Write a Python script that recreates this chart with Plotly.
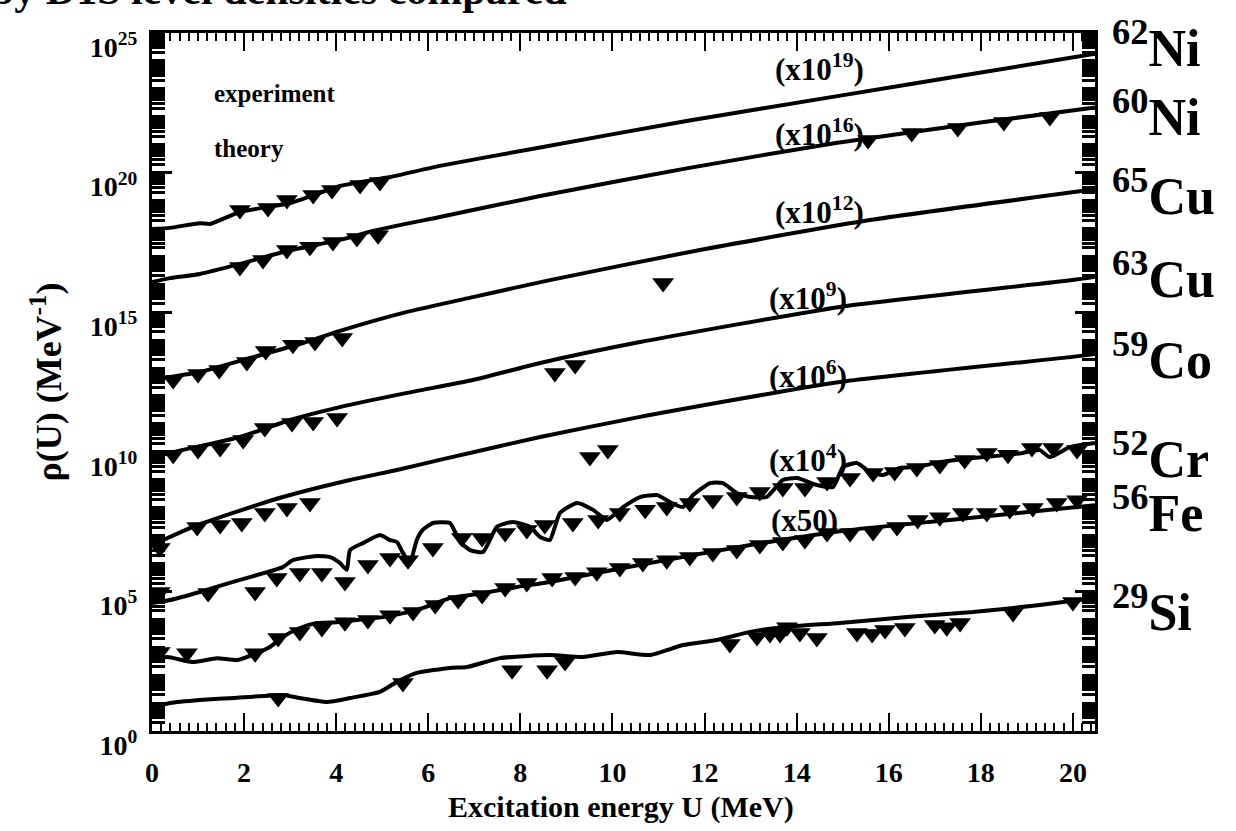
import numpy as np
import plotly.graph_objects as go

# ---------------- data (U in MeV, log10 of unscaled level density in MeV^-1) ----------------
# scale factors used in the figure
SCALE_NI62 = 1e19
SCALE_NI60 = 1e16
SCALE_CU65 = 1e12
SCALE_CU63 = 1e9
SCALE_CO59 = 1e6
SCALE_CR52 = 1e4
SCALE_FE56 = 50.0
SCALE_SI29 = 1.0

ni62_theory_u = [0, 0.39, 1.04, 1.26, 1.91, 3.00, 4.08, 5.17, 6.25, 8.43, 11.64, 14.85, 18.07, 20.48]
ni62_theory_logrho = [-1.02, -0.98, -0.81, -0.84, -0.41, -0.09, 0.52, 0.84, 1.24, 1.90, 2.86, 3.73, 4.60, 5.26]
ni62_exp_u = [1.91, 2.52, 2.93, 3.50, 3.91, 4.52, 4.95]
ni62_exp_logrho = [-0.34, -0.27, 0.02, 0.20, 0.38, 0.56, 0.66]

ni60_theory_u = [0, 0.39, 1.04, 1.91, 2.93, 4.08, 4.80, 6.25, 8.43, 11.64, 14.85, 18.07, 20.48]
ni60_theory_logrho = [0.08, 0.22, 0.37, 0.73, 1.19, 1.59, 1.91, 2.41, 3.16, 4.16, 5.06, 5.81, 6.33]
ni60_exp_u = [1.91, 2.41, 2.93, 3.43, 3.93, 4.45, 4.91, 15.55, 16.50, 17.50, 18.50, 19.50]
ni60_exp_logrho = [0.62, 0.87, 1.23, 1.34, 1.51, 1.66, 1.76, 5.17, 5.42, 5.60, 5.81, 5.99]

cu65_theory_u = [0, 0.39, 1.04, 2.13, 3.21, 4.08, 5.54, 6.97, 8.64, 11.90, 15.59, 20.48]
cu65_theory_logrho = [0.57, 0.68, 0.86, 1.36, 1.86, 2.33, 3.01, 3.54, 4.15, 5.23, 6.30, 7.40]
cu65_exp_u = [0.46, 1.00, 1.46, 2.06, 2.47, 3.06, 3.54, 4.13, 11.10]
cu65_exp_logrho = [0.57, 0.79, 0.93, 1.22, 1.61, 1.83, 1.93, 2.08, 4.05]

cu63_theory_u = [0, 0.39, 1.91, 3.00, 4.08, 5.54, 6.97, 8.43, 10.60, 14.94, 19.99, 20.48]
cu63_theory_logrho = [0.78, 0.96, 1.53, 2.14, 2.60, 3.11, 3.57, 4.18, 4.93, 6.19, 7.15, 7.27]
cu63_exp_u = [0.46, 1.00, 1.48, 1.98, 2.45, 3.04, 3.50, 4.02, 8.75, 9.19]
cu63_exp_logrho = [0.89, 1.06, 1.14, 1.42, 1.85, 2.03, 2.07, 2.21, 3.82, 4.11]

co59_theory_u = [0, 0.89, 1.76, 2.84, 4.30, 5.32, 6.25, 8.43, 10.60, 14.94, 19.99, 20.48]
co59_theory_logrho = [0.66, 1.31, 1.81, 2.38, 2.99, 3.35, 3.71, 4.53, 5.25, 6.50, 7.40, 7.50]
co59_exp_u = [0.17, 0.98, 1.48, 1.95, 2.45, 2.93, 3.43, 9.51, 9.90]
co59_exp_logrho = [0.55, 1.31, 1.38, 1.45, 1.81, 1.99, 2.17, 3.81, 4.06]

cr52_theory_u = [0, 0.39, 1.04, 1.76, 2.50, 2.84, 3.06, 3.58, 3.87, 4.08, 4.23, 4.30, 4.58, 4.95,
                 5.17, 5.32, 5.45, 5.60, 5.75, 5.88, 6.10, 6.47, 6.69, 6.91, 7.19, 7.49, 7.84, 8.21,
                 8.43, 8.64, 8.86, 9.23, 9.58, 9.88, 10.23, 10.60, 10.97, 11.25, 11.53, 11.75, 12.12,
                 12.40, 12.70, 12.99, 13.35, 13.70, 14.01, 14.44, 14.79, 15.01, 15.31, 15.59, 15.87,
                 16.24, 16.61, 17.11, 17.83, 18.57, 18.91, 19.28, 19.50, 19.93, 20.48]
cr52_theory_logrho = [0.58, 0.69, 0.98, 1.34, 1.69, 1.87, 2.12, 2.27, 2.23, 2.02, 1.77, 2.48, 2.73, 3.02,
                      2.84, 2.77, 2.38, 2.02, 2.84, 3.20, 3.45, 3.45, 2.77, 2.48, 2.41, 3.31, 3.49, 3.31,
                      2.95, 2.84, 3.81, 4.17, 3.92, 3.56, 4.02, 4.38, 4.45, 4.20, 4.02, 4.45, 4.88,
                      4.88, 4.52, 4.38, 4.38, 4.99, 5.06, 4.81, 4.74, 5.46, 5.60, 5.28, 5.17,
                      5.42, 5.46, 5.63, 5.78, 5.89, 5.96, 6.06, 5.81, 6.17, 6.32]
cr52_exp_u = [0.17, 1.22, 2.24, 2.71, 3.21, 3.69, 4.19, 4.69, 5.17, 5.56, 6.10, 6.73, 7.17, 7.67,
              8.14, 8.53, 9.14, 9.69, 10.16, 10.71, 11.18, 11.68, 12.18, 12.70, 13.20, 13.70, 14.18,
              14.66, 15.16, 15.66, 16.13, 16.61, 17.11, 17.65, 18.13, 18.59, 19.11, 19.57, 20.09]
cr52_exp_logrho = [0.98, 0.94, 0.98, 1.48, 1.66, 1.66, 1.34, 1.95, 2.20, 2.12, 2.55, 2.91, 2.91, 3.09,
                   3.20, 3.38, 3.45, 3.56, 3.81, 3.92, 4.02, 4.17, 4.27, 4.38, 4.56, 4.70, 4.70,
                   4.92, 5.06, 5.24, 5.28, 5.42, 5.53, 5.71, 5.96, 5.89, 6.14, 6.14, 6.06]

fe56_theory_u = [0, 0.33, 0.89, 1.41, 1.85, 2.28, 2.56, 2.84, 3.21, 3.58, 4.02, 4.45, 5.02, 5.75,
                 6.47, 7.19, 7.93, 8.64, 10.81, 12.99, 15.16, 17.33, 20.48]
fe56_theory_logrho = [0.84, 0.95, 0.77, 0.91, 0.84, 1.09, 1.31, 1.67, 1.99, 2.17, 2.20, 2.28, 2.38, 2.63,
                      3.06, 3.24, 3.46, 3.64, 4.32, 4.96, 5.50, 5.86, 6.39]
fe56_exp_u = [0.17, 0.76, 2.24, 2.74, 3.21, 3.69, 4.19, 4.69, 5.17, 5.67, 6.15, 6.65, 7.17, 7.67,
              8.14, 8.69, 9.19, 9.66, 10.16, 10.66, 11.18, 11.68, 12.18, 12.70, 13.20, 13.70, 14.18,
              14.66, 15.16, 15.66, 16.18, 16.63, 17.11, 17.61, 18.13, 18.63, 19.13, 19.65, 20.09]
fe56_exp_logrho = [1.13, 1.09, 1.09, 1.63, 1.85, 1.99, 2.20, 2.28, 2.45, 2.56, 2.81, 2.99, 3.17, 3.42,
                   3.60, 3.78, 3.82, 3.99, 4.14, 4.32, 4.42, 4.53, 4.68, 4.78, 4.96, 5.07, 5.14,
                   5.39, 5.39, 5.43, 5.61, 5.86, 5.96, 6.11, 6.11, 6.22, 6.29, 6.47, 6.57]

si29_theory_u = [0, 0.39, 1.04, 1.76, 2.84, 3.21, 3.80, 4.30, 4.95, 5.32, 5.75, 6.47, 6.84, 7.56,
                 8.64, 9.36, 10.10, 10.81, 11.53, 12.27, 12.99, 13.70, 14.94, 16.40, 17.83, 19.28, 20.48]
si29_theory_logrho = [0.82, 1.00, 1.11, 1.18, 1.29, 1.18, 1.04, 1.18, 1.40, 1.76, 2.08, 2.26, 2.29, 2.61,
                      2.72, 2.65, 2.83, 2.72, 3.08, 3.26, 3.55, 3.72, 3.87, 4.08, 4.26, 4.51, 4.76]
si29_exp_u = [2.74, 5.45, 7.82, 8.58, 8.97, 12.55, 13.14, 13.42, 13.64, 13.79, 14.07, 14.44, 15.31,
              15.64, 15.92, 16.35, 17.00, 17.26, 17.55, 18.70, 20.00]
si29_exp_logrho = [1.18, 1.72, 2.18, 2.18, 2.47, 3.12, 3.37, 3.47, 3.47, 3.72, 3.51, 3.33, 3.51,
                   3.47, 3.62, 3.69, 3.80, 3.72, 3.87, 4.23, 4.62]

nucleus_labels = ["<sup>62</sup>Ni", "<sup>60</sup>Ni", "<sup>65</sup>Cu", "<sup>63</sup>Cu",
                  "<sup>59</sup>Co", "<sup>52</sup>Cr", "<sup>56</sup>Fe", "<sup>29</sup>Si"]
scale_labels = ["(x10<sup>19</sup>)", "(x10<sup>16</sup>)", "(x10<sup>12</sup>)", "(x10<sup>9</sup>)",
                "(x10<sup>6</sup>)", "(x10<sup>4</sup>)", "(x50)"]
x_tick_values = [0, 2, 4, 6, 8, 10, 12, 14, 16, 18, 20]
y_tick_exponents = [0, 5, 10, 15, 20, 25]

# ---------------- figure ----------------
SERIF = "Liberation Serif"
fig = go.Figure()

series = [
    ("62Ni", ni62_theory_u, ni62_theory_logrho, ni62_exp_u, ni62_exp_logrho, SCALE_NI62),
    ("60Ni", ni60_theory_u, ni60_theory_logrho, ni60_exp_u, ni60_exp_logrho, SCALE_NI60),
    ("65Cu", cu65_theory_u, cu65_theory_logrho, cu65_exp_u, cu65_exp_logrho, SCALE_CU65),
    ("63Cu", cu63_theory_u, cu63_theory_logrho, cu63_exp_u, cu63_exp_logrho, SCALE_CU63),
    ("59Co", co59_theory_u, co59_theory_logrho, co59_exp_u, co59_exp_logrho, SCALE_CO59),
    ("52Cr", cr52_theory_u, cr52_theory_logrho, cr52_exp_u, cr52_exp_logrho, SCALE_CR52),
    ("56Fe", fe56_theory_u, fe56_theory_logrho, fe56_exp_u, fe56_exp_logrho, SCALE_FE56),
    ("29Si", si29_theory_u, si29_theory_logrho, si29_exp_u, si29_exp_logrho, SCALE_SI29),
]

for name, tu, tl, eu, el, s in series:
    fig.add_trace(go.Scatter(
        x=tu, y=(10.0 ** np.array(tl)) * s, mode="lines", name=name + " theory",
        line=dict(color="black", width=4, shape="spline", smoothing=0.5),
        hoverinfo="skip"))
    fig.add_trace(go.Scatter(
        x=eu, y=(10.0 ** np.array(el)) * s, mode="markers", name=name + " experiment",
        marker=dict(symbol="triangle-down", size=19, color="black", line=dict(width=0))))

bold = dict(family=SERIF, color="black", weight="bold")

fig.update_layout(
    width=1236, height=831, autosize=False,
    margin=dict(l=152, r=141, t=33, b=100),
    paper_bgcolor="white", plot_bgcolor="white",
    showlegend=False,
    font=dict(family=SERIF, color="black"),
)

fig.update_xaxes(
    range=[0, 20.48], tickmode="array", tickvals=x_tick_values,
    ticktext=[str(v) for v in x_tick_values],
    ticks="inside", ticklen=18, tickwidth=2, tickcolor="black",
    showline=True, linecolor="black", linewidth=3, mirror="ticks",
    showgrid=False, zeroline=False, automargin=False,
    tickfont=dict(size=28, **bold), ticklabelstandoff=14,
    minor=dict(ticks="inside", ticklen=8, tickwidth=1.5, tickcolor="black",
               dtick=0.2, tick0=0, showgrid=False),
)

fig.update_yaxes(
    type="log", range=[0, 25], tickmode="array",
    tickvals=[10.0 ** e for e in y_tick_exponents],
    ticktext=["10<sup>%d</sup>" % e for e in y_tick_exponents],
    ticks="inside", ticklen=20, tickwidth=2.5, tickcolor="black",
    showline=True, linecolor="black", linewidth=3, mirror="ticks",
    showgrid=False, zeroline=False, automargin=False,
    tickfont=dict(size=28, **bold), ticklabelshift=14, ticklabelstandoff=6,
    minor=dict(ticks="inside", ticklen=13, tickwidth=2.5, tickcolor="black",
               dtick="D1", showgrid=False),
    title=dict(text="\u03c1(U) (MeV<sup>-1</sup>)", font=dict(size=36, **bold), standoff=18),
)

# x-axis title placed just under the tick labels
fig.add_annotation(text="Excitation energy U (MeV)", xref="paper", yref="paper",
                   x=0.497, y=-0.1085, xanchor="center", yanchor="middle", showarrow=False,
                   font=dict(size=30, **bold))

# nucleus labels on the right
label_y = [0.983, 0.885, 0.772, 0.653, 0.537, 0.394, 0.317, 0.176]
for txt, yy in zip(nucleus_labels, label_y):
    fig.add_annotation(text=txt, xref="paper", yref="paper", x=1.016, y=yy,
                       xanchor="left", yanchor="middle", showarrow=False,
                       font=dict(size=52, **bold))

# scale-factor labels
scale_pos = [(0.708, 0.951), (0.708, 0.858), (0.708, 0.746), (0.696, 0.622),
             (0.696, 0.511), (0.696, 0.390), (0.692, 0.302)]
for txt, (xx, yy) in zip(scale_labels, scale_pos):
    fig.add_annotation(text=txt, xref="paper", yref="paper", x=xx, y=yy,
                       xanchor="center", yanchor="middle", showarrow=False,
                       font=dict(size=31, **bold))

# legend-like texts
fig.add_annotation(text="experiment", xref="paper", yref="paper", x=0.0636, y=0.914,
                   xanchor="left", yanchor="middle", showarrow=False, font=dict(size=25, **bold))
fig.add_annotation(text="theory", xref="paper", yref="paper", x=0.0636, y=0.835,
                   xanchor="left", yanchor="middle", showarrow=False, font=dict(size=25, **bold))

# caption fragment cut off at the top of the page
fig.add_annotation(text="by D1S level densities compared", xref="paper", yref="paper",
                   x=-0.173, y=1.026, xanchor="left", yanchor="bottom", showarrow=False,
                   font=dict(size=42, **bold))

fig.write_html("out.html")
